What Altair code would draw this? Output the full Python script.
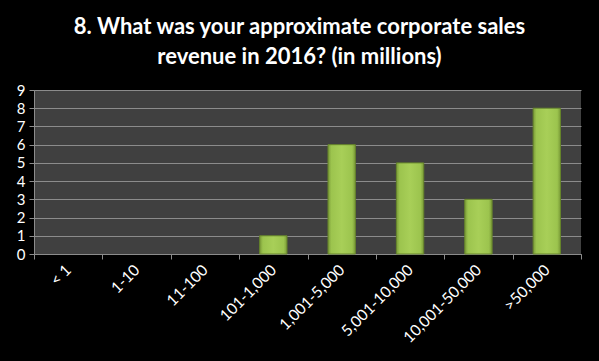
import altair as alt
import jinja2
import pandas as pd

categories = ["< 1", "1-10", "11-100", "101-1,000", "1,001-5,000",
              "5,001-10,000", "10,001-50,000", ">50,000"]
counts = [0, 0, 0, 1, 6, 5, 3, 8]
y_ticks = [0, 1, 2, 3, 4, 5, 6, 7, 8, 9]
title_lines = ["8. What was your approximate corporate sales",
               "revenue in 2016? (in millions)"]

df = pd.DataFrame({"category": categories, "count": counts})

grad = alt.Gradient(
    gradient="linear", x1=0, x2=1, y1=0, y2=0,
    stops=[
        alt.GradientStop(color="#7a9a38", offset=0),
        alt.GradientStop(color="#9cc44e", offset=0.12),
        alt.GradientStop(color="#a8cf58", offset=0.5),
        alt.GradientStop(color="#9cc44e", offset=0.88),
        alt.GradientStop(color="#7a9a38", offset=1),
    ],
)

chart = alt.Chart(df).transform_filter(
    alt.datum["count"] > 0
).mark_bar(
    width=alt.RelativeBandSize(0.4), fill=grad, stroke="#66852b", strokeWidth=1
).encode(
    x=alt.X("category:N", sort=categories,
            scale=alt.Scale(domain=categories, paddingInner=0, paddingOuter=0),
            axis=alt.Axis(title=None, labelAngle=315, labelAlign="right",
                          labelBaseline="middle", labelPadding=8,
                          bandPosition=0, tickBand="extent",
                          labelColor="white", labelFontSize=15.5, labelFont="Lato",
                          domainColor="#8c8c8c", tickColor="#8c8c8c",
                          tickSize=5, grid=False)),
    y=alt.Y("count:Q", scale=alt.Scale(domain=[0, 9], nice=False),
            axis=alt.Axis(title=None, values=y_ticks, labelColor="white",
                          labelFontSize=15, labelFont="Lato", labelPadding=4,
                          domainColor="#8c8c8c", tickColor="#8c8c8c", tickSize=5,
                          gridColor="#8c8c8c", gridWidth=1,
                          minExtent=26, maxExtent=26)),
).properties(
    width=547, height=164,
    title=alt.TitleParams(text=title_lines, color="white", fontSize=22,
                          font="Lato", fontWeight="bold", lineHeight=30,
                          anchor="middle", dx=-8, offset=14),
    padding={"left": 0, "top": 8, "right": 0, "bottom": 0},
    background="black",
).configure_view(fill="#404040", stroke=None)

page = jinja2.Template("""<!DOCTYPE html>
<html>
<head>
<meta charset="utf-8">
<style>html, body { background: #000000; margin: 0; padding: 0; } #{{ output_div }} { margin: 8px; }</style>
<script type="text/javascript" src="{{ base_url }}/vega@{{ vega_version }}"></script>
<script type="text/javascript" src="{{ base_url }}/vega-lite@{{ vegalite_version }}"></script>
<script type="text/javascript" src="{{ base_url }}/vega-embed@{{ vegaembed_version }}"></script>
</head>
<body>
<div id="{{ output_div }}"></div>
<script type="text/javascript">
  (function(spec, embedOpt){
    vegaEmbed("#{{ output_div }}", spec, embedOpt).catch(console.error);
  })({{ spec }}, {{ embed_options }});
</script>
</body>
</html>
""")

chart.save("out.html", embed_options={"renderer": "svg", "actions": False},
           template=page)
